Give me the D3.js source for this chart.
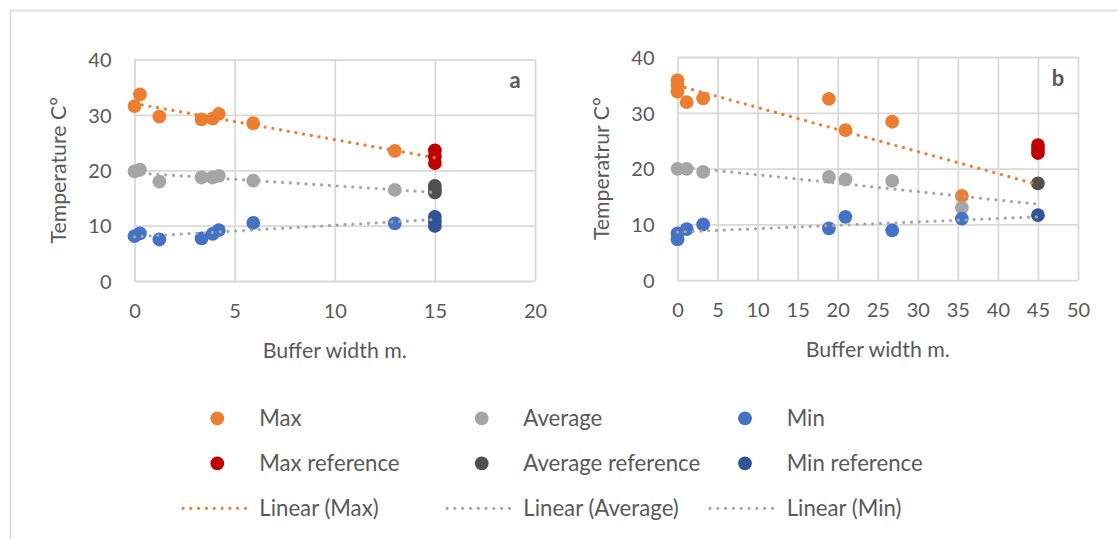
<!DOCTYPE html>
<html><head><meta charset="utf-8">
<script src="https://cdn.jsdelivr.net/npm/d3@7"></script>
<style>
body{margin:0;background:#fff;}
svg{display:block;font-family:Lato,"Open Sans",sans-serif;}
</style></head><body>
<svg id="c" width="1118" height="539"></svg>
<script>
// ---------- data ----------
// Panel a
const aX      = [0, 0.27, 1.24, 3.35, 3.9, 4.21, 5.93, 13.0];
const aMax    = [31.6, 33.7, 29.7, 29.2, 29.35, 30.2, 28.5, 23.5];
const aAvg    = [19.8, 20.1, 17.95, 18.7, 18.7, 19.0, 18.15, 16.45];
const aMin    = [8.1, 8.6, 7.5, 7.7, 8.5, 9.2, 10.5, 10.4];
const aRefX   = 15;
const aMaxRef = [23.6, 22.5, 21.3];
const aAvgRef = [17.2, 16.5, 16.0];
const aMinRef = [11.6, 10.8, 9.95];
// Panel b
const bMaxX   = [0, 0, 0, 1.15, 3.2, 18.9, 20.97, 26.8, 35.5];
const bMax    = [35.8, 35.0, 33.8, 31.9, 32.6, 32.5, 26.9, 28.4, 15.1];
const bAvgX   = [0, 1.15, 3.2, 18.9, 20.97, 26.8, 35.5];
const bAvg    = [19.96, 19.96, 19.4, 18.5, 18.05, 17.8, 13.0];
const bMinX   = [0, 0, 1.15, 3.2, 18.9, 20.97, 26.8, 35.5];
const bMin    = [8.4, 7.3, 9.15, 10.0, 9.3, 11.35, 8.95, 11.05];
const bRefX   = 45;
const bMaxRef = [24.2, 23.5, 22.8];
const bAvgRef = [17.35];
const bMinRef = [11.65];
// ticks / labels
const aXTicks = [0, 5, 10, 15, 20];
const bXTicks = [0, 5, 10, 15, 20, 25, 30, 35, 40, 45, 50];
const yTicks  = [0, 10, 20, 30, 40];
const legendNames = ["Max", "Average", "Min", "Max reference", "Average reference", "Min reference",
                     "Linear (Max)", "Linear (Average)", "Linear (Min)"];

// ---------- styles ----------
const C = {max:"#ED7D31", avg:"#A5A5A5", min:"#4472C4", maxRef:"#C00000", avgRef:"#505050", minRef:"#2F5597",
           grid:"#D9D9D9", text:"#595959"};
const R = 6.9;
const DOT = {w:3.2, dash:"0.01 7.8"};
const FS = {tick:20, title:21.3, legend:22.2, letter:22};

const svg = d3.select("#c");
svg.append("rect").attr("x",10.5).attr("y",10.5).attr("width",1300).attr("height",700)
  .attr("fill","none").attr("stroke",C.grid).attr("stroke-width",1.5);

function regress(xs, ys){
  const n = xs.length, mx = d3.mean(xs), my = d3.mean(ys);
  let sxy=0, sxx=0;
  for(let i=0;i<n;i++){ sxy += (xs[i]-mx)*(ys[i]-my); sxx += (xs[i]-mx)**2; }
  const m = sxy/sxx; return {m, b: my - m*mx};
}

function panel(cfg){
  const x = d3.scaleLinear().domain(cfg.xDomain).range([cfg.left, cfg.right]);
  const y = d3.scaleLinear().domain([0,40]).range([cfg.bottom, cfg.top]);
  const g = svg.append("g");
  // gridlines
  g.append("g").attr("transform",`translate(0,${cfg.bottom})`)
    .call(d3.axisBottom(x).tickValues(cfg.xTicks).tickSize(-(cfg.bottom-cfg.top)).tickFormat(""))
    .call(s=>{s.select(".domain").remove(); s.selectAll("line").attr("stroke",C.grid).attr("stroke-width",1.8);});
  g.append("g").attr("transform",`translate(${cfg.left},0)`)
    .call(d3.axisLeft(y).tickValues(yTicks).tickSize(-(cfg.right-cfg.left)).tickFormat(""))
    .call(s=>{s.select(".domain").remove(); s.selectAll("line").attr("stroke",C.grid).attr("stroke-width",1.8);});
  // tick labels
  g.append("g").attr("transform",`translate(0,${cfg.bottom+37})`)
    .call(d3.axisBottom(x).tickValues(cfg.xTicks).tickSize(0).tickPadding(0))
    .call(s=>{s.select(".domain").remove(); s.selectAll("text").attr("fill",C.text).attr("font-size",FS.tick).attr("font-family","Lato").attr("dy","0");});
  g.append("g").attr("transform",`translate(${cfg.left-23},0)`)
    .call(d3.axisLeft(y).tickValues(yTicks).tickSize(0).tickPadding(0))
    .call(s=>{s.select(".domain").remove(); s.selectAll("text").attr("fill",C.text).attr("font-size",FS.tick).attr("font-family","Lato").attr("dy","0.36em");});
  // axis titles
  g.append("text").attr("x",(cfg.left+cfg.right)/2).attr("y",cfg.bottom+77).attr("text-anchor","middle")
    .attr("fill",C.text).attr("font-size",FS.title).text("Buffer width m.");
  g.append("text").attr("transform",`translate(${cfg.ytx},${(cfg.top+cfg.bottom)/2}) rotate(-90)`)
    .attr("text-anchor","middle").attr("fill",C.text).attr("font-size",FS.title).text(cfg.yTitle);
  // panel letter
  g.append("text").attr("x",cfg.right-20).attr("y",cfg.top+28.5).attr("text-anchor","middle")
    .attr("fill",C.text).attr("font-size",FS.letter).attr("font-weight","bold").text(cfg.letter);
  // points
  const pts = (xs, ys, col) => g.append("g").selectAll("circle").data(ys).join("circle")
      .attr("cx",(d,i)=>x(Array.isArray(xs)?xs[i]:xs)).attr("cy",d=>y(d)).attr("r",R).attr("fill",col);
  cfg.series.forEach(s=>pts(s.x, s.y, s.color));
  // trendlines
  cfg.trends.forEach(t=>{
    const r = regress(t.x, t.y);
    const xs = [0, cfg.trendEnd];
    g.append("path").datum(xs)
      .attr("d", d3.line().x(d=>x(d)).y(d=>y(r.m*d+r.b)))
      .attr("fill","none").attr("stroke",t.color).attr("stroke-width",DOT.w)
      .attr("stroke-dasharray",DOT.dash).attr("stroke-linecap","round");
  });
}

panel({xDomain:[0,20], xTicks:aXTicks, left:134.5, right:535, top:59.6, bottom:281, ytx:66,
  yTitle:"Temperature C°", letter:"a", trendEnd:aRefX,
  series:[{x:aX,y:aMax,color:C.max},{x:aX,y:aAvg,color:C.avg},{x:aX,y:aMin,color:C.min},
          {x:aRefX,y:aMaxRef,color:C.maxRef},{x:aRefX,y:aAvgRef,color:C.avgRef},{x:aRefX,y:aMinRef,color:C.minRef}],
  trends:[{x:aX,y:aMax,color:C.max},{x:aX,y:aAvg,color:C.avg},{x:aX,y:aMin,color:C.avg}]});

panel({xDomain:[0,50], xTicks:bXTicks, left:677.5, right:1078, top:57, bottom:280.2, ytx:609,
  yTitle:"Temperatrur C°", letter:"b", trendEnd:bRefX,
  series:[{x:bMaxX,y:bMax,color:C.max},{x:bAvgX,y:bAvg,color:C.avg},{x:bMinX,y:bMin,color:C.min},
          {x:bRefX,y:bMaxRef,color:C.maxRef},{x:bRefX,y:bAvgRef,color:C.avgRef},{x:bRefX,y:bMinRef,color:C.minRef}],
  trends:[{x:bMaxX,y:bMax,color:C.max},{x:bAvgX,y:bAvg,color:C.avg},{x:bMinX,y:bMin,color:C.avg}]});

// ---------- legend ----------
const legCols = [{line:[183,249], mark:217.3, text:259.3},
                 {line:[447,513], mark:481.7, text:523.3},
                 {line:[710,777], mark:745, text:786.7}];
const legRows = [418.3, 463.3, 508.3];
const legColors = [C.max, C.avg, C.min, C.maxRef, C.avgRef, C.minRef, C.max, C.avg, C.avg];
const leg = svg.append("g");
legendNames.forEach((name,i)=>{
  const col = legCols[i%3], yy = legRows[Math.floor(i/3)];
  if(i<6){
    leg.append("circle").attr("cx",col.mark).attr("cy",yy).attr("r",R).attr("fill",legColors[i]);
  } else {
    leg.append("line").attr("x1",col.line[0]).attr("x2",col.line[1]).attr("y1",yy).attr("y2",yy)
      .attr("stroke",legColors[i]).attr("stroke-width",DOT.w).attr("stroke-dasharray",DOT.dash).attr("stroke-linecap","round");
  }
  leg.append("text").attr("x",col.text).attr("y",yy).attr("dy","0.36em").attr("fill",C.text)
    .attr("font-size",FS.legend).text(name);
});
</script>
</body></html>
